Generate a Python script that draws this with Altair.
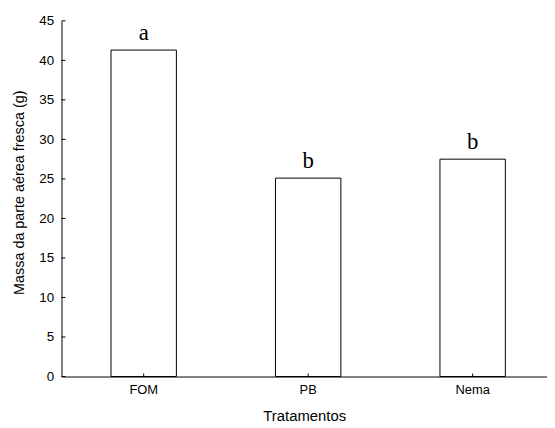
import altair as alt
import pandas as pd

categories = ["FOM", "PB", "Nema"]
values = [41.3, 25.1, 27.5]
letters = ["a", "b", "b"]
y_ticks = [0, 5, 10, 15, 20, 25, 30, 35, 40, 45]

df = pd.DataFrame({"trat": categories, "massa": values, "letra": letters})
ticks_df = pd.DataFrame({"v": y_ticks})

W, H = 490, 359

xscale = alt.Scale(domain=categories, paddingInner=0.6024, paddingOuter=0.277, align=0.543)
yscale = alt.Scale(domain=[0, 45], nice=False)

x_axis = alt.Axis(title="Tratamentos", labelAngle=0, ticks=False,
                  labelPadding=7, titlePadding=12, labelFontSize=13,
                  titleFontSize=15, labelFont="Liberation Sans",
                  titleFont="Liberation Sans", titleFontWeight="normal",
                  domainColor="black", labelColor="black", titleColor="black")
y_axis = alt.Axis(title="Massa da parte aérea fresca (g)", values=y_ticks,
                  labelOverlap=False,
                  ticks=False, grid=False, labelPadding=8, titlePadding=12,
                  labelFontSize=13.5, titleFontSize=14.5, titleY=173,
                  labelFont="Liberation Sans", titleFont="Liberation Sans",
                  titleFontWeight="normal", domainColor="black",
                  labelColor="black", titleColor="black")

bars = alt.Chart(df).mark_bar(fill="white", stroke="black", strokeWidth=1).encode(
    x=alt.X("trat:N", sort=categories, scale=xscale, axis=x_axis),
    y=alt.Y("massa:Q", scale=yscale, axis=y_axis),
)

xticks = alt.Chart(df).mark_rule(color="black", strokeWidth=1).encode(
    x=alt.X("trat:N", sort=categories, scale=xscale, axis=x_axis, bandPosition=0.5),
    y=alt.value(H),
    y2=alt.value(H - 3),
)

yticks = alt.Chart(ticks_df).mark_rule(color="black", strokeWidth=1).encode(
    y=alt.Y("v:Q", scale=yscale, axis=y_axis),
    x=alt.value(0),
    x2=alt.value(4),
)

labels = alt.Chart(df).mark_text(font="Liberation Serif", fontSize=23,
                                 baseline="bottom", dy=-5, color="black").encode(
    x=alt.X("trat:N", sort=categories, scale=xscale, axis=x_axis),
    y=alt.Y("massa:Q", scale=yscale, axis=y_axis),
    text="letra:N",
)

chart = alt.layer(bars, xticks, yticks, labels).properties(
    width=W, height=H,
    background="white",
    autosize=alt.AutoSizeParams(type="none"),
    padding={"left": 54, "top": 11, "right": 0, "bottom": 50},
).configure_view(stroke=None)

chart.save("out.html", embed_options={"renderer": "svg", "actions": False})
